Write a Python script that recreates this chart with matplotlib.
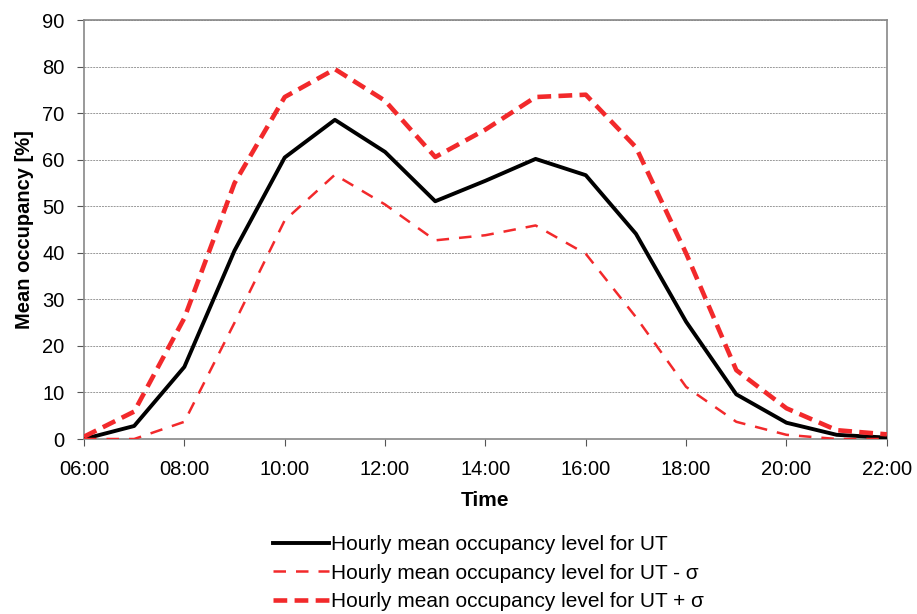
import matplotlib
matplotlib.use("Agg")
import matplotlib.pyplot as plt

plt.rcParams["font.family"] = ["Liberation Sans", "DejaVu Sans"]

# heures (06:00 -> 22:00)
hours = list(range(6, 23))
tick_hours = [6, 8, 10, 12, 14, 16, 18, 20, 22]
tick_labels = ["%02d:00" % h for h in tick_hours]

# taux d'occupation moyen horaire [%]
mean_ut = [0.0, 2.8, 15.5, 40.5, 60.5, 68.6, 61.7, 51.1, 55.5, 60.2, 56.7,
           44.1, 25.2, 9.6, 3.5, 0.9, 0.3]
mean_minus = [0.0, 0.0, 3.7, 25.0, 47.0, 56.8, 50.4, 42.7, 43.8, 45.9, 39.8,
              26.2, 11.2, 3.7, 0.9, 0.0, 0.0]
mean_plus = [0.5, 5.9, 26.0, 55.0, 73.5, 79.5, 72.7, 60.6, 66.5, 73.5, 74.0,
             62.7, 39.9, 14.8, 6.6, 1.9, 1.0]

labels = ["Hourly mean occupancy level for UT",
          "Hourly mean occupancy level for UT - σ",
          "Hourly mean occupancy level for UT + σ"]

red = "#f2292b"

fig = plt.figure(figsize=(9.17, 6.14), dpi=100)
ax = fig.add_axes([0.0916, 0.285, 0.8755, 0.682])

ax.plot(hours, mean_ut, color="black", lw=2.8, label=labels[0], zorder=3)
ax.plot(hours, mean_minus, color=red, lw=1.8, ls=(0, (5, 4)), label=labels[1], zorder=3)
ax.plot(hours, mean_plus, color=red, lw=3.3, ls=(0, (3, 1.6)), label=labels[2], zorder=3)

ax.set_xlim(6, 22)
ax.set_ylim(0, 90)
ax.set_xticks(tick_hours)
ax.set_xticklabels(tick_labels)
ax.set_yticks(range(0, 91, 10))
ax.tick_params(labelsize=14.5, color="#555555", length=5)
ax.tick_params(axis="x", pad=10)
ax.tick_params(axis="y", pad=9)
ax.yaxis.grid(True, color="#999999", ls=(0, (2, 1)), lw=0.7)
for s in ax.spines.values():
    s.set_color("#888888")
    s.set_linewidth(1.2)

ax.set_xlabel("Time", fontsize=15, fontweight="bold", labelpad=9)
ax.set_ylabel("Mean occupancy [%]", fontsize=14.5, fontweight="bold", labelpad=6)

ax.legend(loc="upper left", bbox_to_anchor=(0.236, -0.23), frameon=False,
          fontsize=15, handlelength=2.65, handletextpad=0.1, labelspacing=0.45,
          borderaxespad=0, borderpad=0)

fig.savefig("out.png", dpi=100)
